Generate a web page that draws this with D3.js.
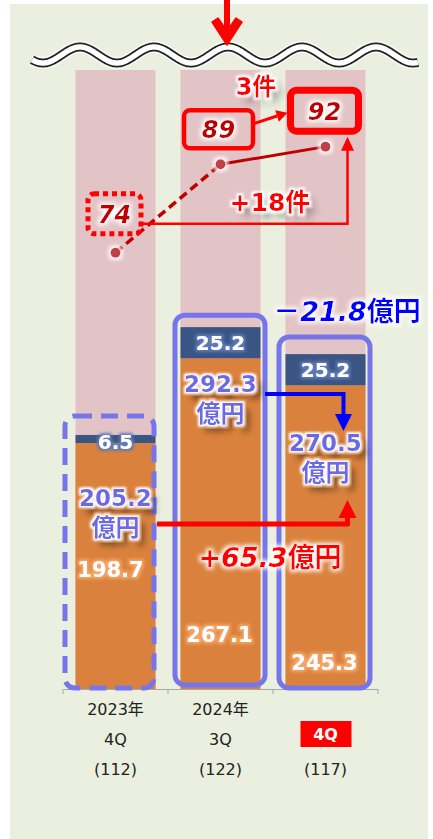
<!DOCTYPE html>
<html><head><meta charset="utf-8">
<script src="https://cdn.jsdelivr.net/npm/d3@7/dist/d3.min.js"></script>
<style>body{margin:0;background:#fff}svg{display:block}text{font-family:"DejaVu Sans","Noto Sans CJK JP",sans-serif}</style>
</head><body>
<script>
// ---- data ----
const categories = ["2023年4Q", "2024年3Q", "2024年4Q"];
const yearLabels = ["2023年", "2024年", ""];
const quarterLabels = ["4Q", "3Q", "4Q"];
const countLabels = ["(112)", "(122)", "(117)"];
const orangeValues = [198.7, 267.1, 245.3];
const navyValues = [6.5, 25.2, 25.2];
const totalValues = [205.2, 292.3, 270.5];
const lineValues = [74, 89, 92];
const diffCount = ["3", "+18"];
const diffAmount = ["21.8", "+65.3"];

const W = 433, H = 839;
const svg = d3.select("body").append("svg").attr("width", W).attr("height", H);
const defs = svg.append("defs");

function glow(id, color, r, blur) {
  const f = defs.append("filter").attr("id", id).attr("x", "-40%").attr("y", "-40%").attr("width", "180%").attr("height", "180%");
  f.append("feMorphology").attr("in", "SourceAlpha").attr("operator", "dilate").attr("radius", r).attr("result", "d");
  f.append("feGaussianBlur").attr("in", "d").attr("stdDeviation", blur).attr("result", "b");
  f.append("feFlood").attr("flood-color", color).attr("result", "c");
  f.append("feComposite").attr("in", "c").attr("in2", "b").attr("operator", "in").attr("result", "g");
  const m = f.append("feMerge");
  m.append("feMergeNode").attr("in", "g");
  m.append("feMergeNode").attr("in", "SourceGraphic");
}
function shadowGlow(id, color, dx, dy, sd, op) {
  const f = defs.append("filter").attr("id", id).attr("x", "-40%").attr("y", "-40%").attr("width", "180%").attr("height", "180%");
  f.append("feGaussianBlur").attr("in", "SourceAlpha").attr("stdDeviation", sd).attr("result", "b");
  f.append("feOffset").attr("in", "b").attr("dx", dx).attr("dy", dy).attr("result", "o");
  f.append("feFlood").attr("flood-color", color).attr("flood-opacity", op).attr("result", "c");
  f.append("feComposite").attr("in", "c").attr("in2", "o").attr("operator", "in").attr("result", "s");
  f.append("feMorphology").attr("in", "SourceAlpha").attr("operator", "dilate").attr("radius", 1.5).attr("result", "d");
  f.append("feGaussianBlur").attr("in", "d").attr("stdDeviation", 1).attr("result", "db");
  f.append("feFlood").attr("flood-color", "#fff").attr("result", "w");
  f.append("feComposite").attr("in", "w").attr("in2", "db").attr("operator", "in").attr("result", "g");
  const m = f.append("feMerge");
  m.append("feMergeNode").attr("in", "s");
  m.append("feMergeNode").attr("in", "g");
  m.append("feMergeNode").attr("in", "SourceGraphic");
}
glow("gOrange", "#f5a562", 1.5, 1.5);
glow("gNavy", "#5c7ab8", 1.5, 1.5);
glow("gWhite", "#ffffff", 2, 2);
shadowGlow("sDark", "#000", 6, 7, 3, 0.6);
shadowGlow("sGrey", "#333", 7, 7, 3, 0.45);

// panel
svg.append("rect").attr("x", 10).attr("y", 4).attr("width", 418).attr("height", H - 4).attr("fill", "#ebefdf");

// scales
const x = d3.scaleBand().domain(categories).range([63, 378]).paddingInner(0.238).paddingOuter(0.119);
const y = d3.scaleLinear().domain([0, 500]).range([689, 70]);
const y2 = d3.scaleLinear().domain([0, 105]).range([689, 70]);
const bw = x.bandwidth();
const cx = c => x(c) + bw / 2;

// background full bars
svg.append("g").selectAll("rect").data(categories).join("rect")
  .attr("x", d => x(d)).attr("width", bw).attr("y", y(500)).attr("height", y(0) - y(500)).attr("fill", "#e3c4c6");

// stacked bars
svg.append("g").selectAll("rect").data(categories).join("rect")
  .attr("x", d => x(d)).attr("width", bw)
  .attr("y", (d, i) => y(orangeValues[i])).attr("height", (d, i) => y(0) - y(orangeValues[i])).attr("fill", "#da823d");
svg.append("g").selectAll("rect").data(categories).join("rect")
  .attr("x", d => x(d)).attr("width", bw)
  .attr("y", (d, i) => y(orangeValues[i] + navyValues[i])).attr("height", (d, i) => y(orangeValues[i]) - y(orangeValues[i] + navyValues[i])).attr("fill", "#3a5583");

// axis
const axis = svg.append("g").attr("transform", `translate(0,${y(0)})`)
  .call(d3.axisBottom(x).tickSize(0).tickFormat(""));
axis.select(".domain").attr("stroke", "#a8a8a8").attr("stroke-width", 1);
svg.append("g").selectAll("line").data([0, 1, 2, 3]).join("line")
  .attr("x1", i => x.range()[0] + i * x.step()).attr("x2", i => x.range()[0] + i * x.step())
  .attr("y1", y(0)).attr("y2", y(0) + 5).attr("stroke", "#a8a8a8");

// blue boxes (total outlines)
const boxPad = [[12, 0, 19], [7, 6, 12], [8, 6, 17]];
const boxG = svg.append("g");
categories.forEach((c, i) => {
  const top = y(orangeValues[i] + navyValues[i]) - boxPad[i][2];
  const bottom = i === 1 ? y(0) - 4 : y(0) - 1;
  boxG.append("rect")
    .attr("x", x(c) - boxPad[i][0] + 1.5).attr("y", top)
    .attr("width", bw + boxPad[i][0] + boxPad[i][1] - 3).attr("height", bottom - top)
    .attr("rx", 10).attr("fill", "none").attr("stroke", "#7676ea").attr("stroke-width", 5)
    .attr("stroke-dasharray", i === 0 ? "17,9" : null);
});

// wave break
const waveX = d3.range(32, 419, 1);
const waveLine = d3.line().x(d => d).y(d => 55 + 8 * Math.cos(2 * Math.PI * (d - 43) / 74)).curve(d3.curveBasis);
svg.append("path").attr("d", waveLine(waveX)).attr("fill", "none").attr("stroke", "#fff").attr("stroke-width", 12).attr("opacity", 0.8);
svg.append("path").attr("d", waveLine(waveX)).attr("fill", "none").attr("stroke", "#222").attr("stroke-width", 9);
svg.append("path").attr("d", waveLine(waveX)).attr("fill", "none").attr("stroke", "#fff").attr("stroke-width", 5.4);

// top arrow
svg.append("rect").attr("x", 224).attr("y", 0).attr("width", 6).attr("height", 30).attr("fill", "#ff0000");
svg.append("path").attr("d", "M227,45 L212,22 L218,18 L227,31 L236,18 L242,22 Z").attr("fill", "#ff0000").attr("stroke", "#ff0000").attr("stroke-width", 1.5).attr("stroke-linejoin", "round");

// line series
const pts = categories.map((c, i) => [cx(c), y2(lineValues[i])]);
svg.append("line").attr("x1", pts[0][0]).attr("y1", pts[0][1]).attr("x2", pts[1][0]).attr("y2", pts[1][1])
  .attr("stroke", "#c00000").attr("stroke-width", 3.5).attr("stroke-dasharray", "9,5");
svg.append("line").attr("x1", pts[1][0]).attr("y1", pts[1][1]).attr("x2", pts[2][0]).attr("y2", pts[2][1])
  .attr("stroke", "#c00000").attr("stroke-width", 3);
svg.append("g").selectAll("circle").data(pts).join("circle")
  .attr("cx", d => d[0]).attr("cy", d => d[1]).attr("r", 5).attr("fill", "#c0404a").attr("filter", "url(#gWhite)");

// count boxes
const cbox = [
  {w: 53, h: 40, dy: -39, sw: 5, dash: "5,4"},
  {w: 69, h: 38, dy: -35, sw: 4.5, dash: null},
  {w: 68, h: 41, dy: -36, sw: 7, dash: null}
];
const cbx = [-1, -2, -1];
pts.forEach((p, i) => {
  const b = cbox[i];
  const ccx = p[0] + cbx[i], ccy = p[1] + b.dy;
  svg.append("rect").attr("x", ccx - b.w / 2).attr("y", ccy - b.h / 2).attr("width", b.w).attr("height", b.h)
    .attr("rx", 6).attr("fill", "none").attr("stroke", "#ff0000").attr("stroke-width", b.sw).attr("stroke-dasharray", b.dash);
  svg.append("text").attr("x", ccx).attr("y", ccy + 9).attr("text-anchor", "middle")
    .attr("font-size", 24).attr("font-weight", "bold").attr("font-style", "italic").attr("fill", "#c00000")
    .attr("filter", "url(#gWhite)").text(lineValues[i]);
});

function arrowHead(tx, ty, dir, w, h, color) {
  let d;
  if (dir === "up") d = `M${tx},${ty} L${tx - w / 2},${ty + h} L${tx + w / 2},${ty + h} Z`;
  else d = `M${tx},${ty} L${tx - w / 2},${ty - h} L${tx + w / 2},${ty - h} Z`;
  svg.append("path").attr("d", d).attr("fill", color);
}

// arrow 89 -> 92
(function () {
  const x1 = pts[1][0] + 34, y1 = pts[1][1] - 41, x2 = pts[2][0] - 38, y2p = pts[2][1] - 34;
  const ang = Math.atan2(y2p - y1, x2 - x1);
  const hx = x2 - 11 * Math.cos(ang), hy = y2p - 11 * Math.sin(ang);
  svg.append("line").attr("x1", x1).attr("y1", y1).attr("x2", hx).attr("y2", hy).attr("stroke", "#ff0000").attr("stroke-width", 3);
  const px = -Math.sin(ang) * 6, py = Math.cos(ang) * 6;
  svg.append("path").attr("d", `M${x2},${y2p} L${hx + px},${hy + py} L${hx - px},${hy - py} Z`).attr("fill", "#ff0000");
})();

// +18 connector
const connX = cx(categories[2]) + 22;
svg.append("path").attr("d", `M${pts[0][0] + 27},${pts[0][1] - 29} H${connX} V${pts[2][1] + 3}`)
  .attr("fill", "none").attr("stroke", "#ff0000").attr("stroke-width", 2.5);
arrowHead(connX, pts[2][1] - 10, "up", 13, 14, "#ff0000");

// count diff texts
const t3 = svg.append("text").attr("x", 256).attr("y", 95).attr("text-anchor", "middle").attr("font-size", 24).attr("font-weight", "bold")
  .attr("fill", "#ff0000").attr("filter", "url(#sGrey)");
t3.append("tspan").text(diffCount[0]); t3.append("tspan").text("件");
const t18 = svg.append("text").attr("x", 270).attr("y", 211).attr("text-anchor", "middle").attr("font-size", 25).attr("font-weight", "bold")
  .attr("fill", "#ff0000").attr("filter", "url(#sGrey)");
t18.append("tspan").text(diffCount[1]); t18.append("tspan").text("件");

// segment labels
svg.append("g").selectAll("text").data(categories).join("text")
  .attr("x", d => cx(d)).attr("y", (d, i) => (y(orangeValues[i]) + y(orangeValues[i] + navyValues[i])) / 2 + 7 + (i === 0 ? 3 : 0))
  .attr("text-anchor", "middle").attr("font-size", 20).attr("font-weight", "bold").attr("fill", "#fff")
  .attr("filter", "url(#gNavy)").text((d, i) => navyValues[i].toFixed(1));
const orangeLabelY = [577, 642, 670];
const orangeLabelDx = [-5, -1, -1];
svg.append("g").selectAll("text").data(categories).join("text")
  .attr("x", (d, i) => cx(d) + orangeLabelDx[i]).attr("y", (d, i) => orangeLabelY[i])
  .attr("text-anchor", "middle").attr("font-size", 21).attr("font-weight", "bold").attr("fill", "#fff")
  .attr("filter", "url(#gOrange)").text((d, i) => orangeValues[i].toFixed(1));

// blue arrow (292.3 -> 270.5)
svg.append("path").attr("d", `M265,394 H${cx(categories[2]) + 18} V416`).attr("fill", "none").attr("stroke", "#0000ff").attr("stroke-width", 4);
arrowHead(cx(categories[2]) + 18, 431, "down", 17, 17, "#0000ff");

// red arrow (205.2 -> 270.5)
svg.append("path").attr("d", `M157,524 H${connX} V516`).attr("fill", "none").attr("stroke", "#ff0000").attr("stroke-width", 5).attr("stroke-linejoin", "round");
arrowHead(connX, 500, "up", 18, 18, "#ff0000");

// total labels
const totalLabelY = [506, 392, 451];
categories.forEach((c, i) => {
  const t = svg.append("text").attr("text-anchor", "middle").attr("font-weight", "bold").attr("fill", "#6b6be6")
    .attr("filter", "url(#sDark)");
  t.append("tspan").attr("x", cx(c)).attr("y", totalLabelY[i]).attr("font-size", 23).text(totalValues[i].toFixed(1));
  t.append("tspan").attr("x", cx(c)).attr("y", totalLabelY[i] + 30).attr("font-size", 24).text("億円");
});

// diff amount texts
const tm = svg.append("text").attr("x", 347).attr("y", 321).attr("text-anchor", "middle").attr("font-size", 27).attr("font-weight", "bold")
  .attr("fill", "#0000ff").attr("filter", "url(#gWhite)");
tm.append("tspan").text("－");
tm.append("tspan").attr("font-style", "italic").text(diffAmount[0]);
tm.append("tspan").text("億円");
const tp = svg.append("text").attr("x", 270).attr("y", 567).attr("text-anchor", "middle").attr("font-size", 27).attr("font-weight", "bold")
  .attr("fill", "#ff0000").attr("filter", "url(#gWhite)");
tp.append("tspan").attr("font-style", "italic").text(diffAmount[1]);
tp.append("tspan").text("億円");

// axis labels
const lab = svg.append("g").attr("fill", "#222").attr("font-size", 16).attr("text-anchor", "middle");
categories.forEach((c, i) => {
  if (yearLabels[i]) lab.append("text").attr("x", cx(c)).attr("y", 715).text(yearLabels[i]);
  if (i === 2) {
    lab.append("rect").attr("x", cx(c) - 25).attr("y", 721).attr("width", 51).attr("height", 26).attr("fill", "#ff0000");
    lab.append("text").attr("x", cx(c)).attr("y", 740).attr("fill", "#fff").attr("font-weight", "bold").text(quarterLabels[i]);
  } else {
    lab.append("text").attr("x", cx(c)).attr("y", 745).text(quarterLabels[i]);
  }
  lab.append("text").attr("x", cx(c)).attr("y", 775).text(countLabels[i]);
});
</script>
</body></html>
